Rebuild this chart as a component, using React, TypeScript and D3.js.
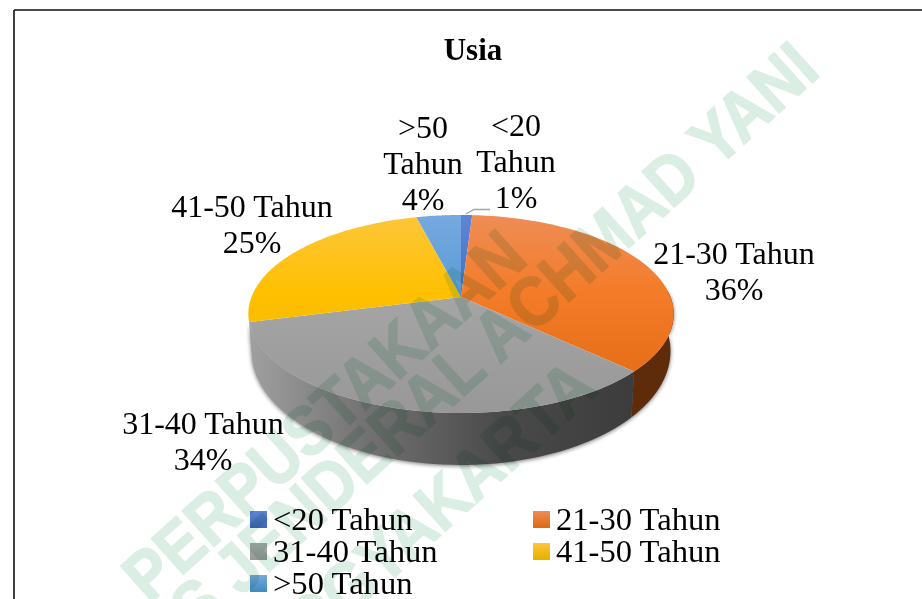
import React from "react";
import * as d3 from "d3";

const categories = ["<20 Tahun", "21-30 Tahun", "31-40 Tahun", "41-50 Tahun", ">50 Tahun"];
const values = [1, 36, 34, 25, 4];
const topStops = [
  ["#5f84d6", "#4472c4", "#3d68b8"],
  ["#ee8d55", "#f47b28", "#e0680f"],
  ["#adadad", "#a5a5a5", "#989898"],
  ["#fdc63a", "#ffc000", "#e6b000"],
  ["#76a9e0", "#5b9bd5", "#3f8cbc"],
];
const legendOrder = [[0, 1], [2, 3], [4]];
const labelLines = [
  { i: 0, lines: ["<20", "Tahun", "1%"], x: 516, y: 136 },
  { i: 1, lines: ["21-30 Tahun", "36%"], x: 734, y: 264 },
  { i: 2, lines: ["31-40 Tahun", "34%"], x: 203, y: 434 },
  { i: 3, lines: ["41-50 Tahun", "25%"], x: 252, y: 217 },
  { i: 4, lines: [">50", "Tahun", "4%"], x: 423, y: 138 },
];
const watermark = [
  { text: "PERPUSTAKAAN", x: 530, y: 262 },
  { text: "UNIVERSITAS JENDERAL ACHMAD YANI", x: 822, y: 74 },
  { text: "YOGYAKARTA", x: 600, y: 392 },
];

const serif = "'Liberation Serif', serif";
const APEX_X = 461, APEX_Y = 297, PERSP = 0.1717, BY = 45.1, AX = 209.5;

function projectTop(a: number): [number, number] {
  const u = Math.sin(a), v = -Math.cos(a);
  const den = 1 - PERSP * v;
  return [APEX_X + (AX * u) / den, (APEX_Y + BY * v) / den];
}
function projectBottom(a: number): [number, number] {
  const [x, y] = projectTop(a);
  return [APEX_X + (x - APEX_X) * 0.985, y * 1.15 - 10];
}
const line = d3.line();
const rad = Math.PI / 180;

function samples(a0: number, a1: number): number[] {
  return d3.range(0, 61).map((k) => a0 + ((a1 - a0) * k) / 60);
}

export default function App() {
  const arcs = d3.pie<number>().sort(null)(values);
  const visibleStart = 86 * rad, visibleEnd = arcs[2].endAngle;
  const side = (a0: number, a1: number) => {
    const s = samples(a0, a1);
    return line([...s.map(projectTop), ...s.slice().reverse().map(projectBottom)]) + "Z";
  };
  const allSide = side(visibleStart, visibleEnd);
  return (
    <svg width={922} height={599} style={{ position: "absolute", left: 0, top: 0, background: "#fff" }}>
      <defs>
        {topStops.map((s, i) => (
          <linearGradient key={i} id={`top${i}`} gradientUnits="userSpaceOnUse" x1="0" x2="0" y1="215" y2="413">
            <stop offset="0" stopColor={s[0]} />
            <stop offset="0.4" stopColor={s[1]} />
            <stop offset="1" stopColor={s[2]} />
          </linearGradient>
        ))}
        {topStops.map((s, i) => (
          <linearGradient key={i} id={`leg${i}`} x1="0" x2="0" y1="0" y2="1">
            <stop offset="0" stopColor={s[0]} />
            <stop offset="1" stopColor={s[2]} />
          </linearGradient>
        ))}
        <linearGradient id="grayside" gradientUnits="userSpaceOnUse" x1="250" x2="635" y1="0" y2="0">
          <stop offset="0" stopColor="#a0a0a0" />
          <stop offset="0.3" stopColor="#727272" />
          <stop offset="0.65" stopColor="#4a4a4a" />
          <stop offset="1" stopColor="#3c3c3c" />
        </linearGradient>
        <filter id="blur" x="-10%" y="-10%" width="120%" height="130%">
          <feGaussianBlur stdDeviation="2.2" />
        </filter>
      </defs>

      <path d={allSide} fill="#000" opacity={0.55} filter="url(#blur)" transform="translate(0,1)" />
      {arcs.map((d, i) => {
        const a0 = Math.max(d.startAngle, visibleStart), a1 = Math.min(d.endAngle, visibleEnd);
        if (a1 <= a0) return null;
        return <path key={i} d={side(a0, a1)} fill={i === 1 ? "#5e2c0a" : "url(#grayside)"} />;
      })}
      {arcs.map((d, i) => {
        const pts = samples(d.startAngle, d.endAngle).map(projectTop);
        return <path key={i} d={line([[APEX_X, APEX_Y], ...pts]) + "Z"} fill={`url(#top${i})`} />;
      })}

      <path d={line([[466, 214], [474, 209.5], [490, 209.5]]) ?? ""} fill="none" stroke="#a5a5a5" strokeWidth={1.4} />

      <line x1={14} x2={922} y1={10} y2={10} stroke="#111" strokeWidth={1.6} />
      <line x1={14} x2={14} y1={10} y2={599} stroke="#111" strokeWidth={1.6} />

      <text x={473} y={60} textAnchor="middle" fontFamily={serif} fontWeight="bold" fontSize={31} fill="#000">Usia</text>

      {labelLines.map((l) => (
        <text key={l.i} textAnchor="middle" fontFamily={serif} fontSize={32} fill="#000">
          {l.lines.map((t, k) => (
            <tspan key={k} x={l.x} y={l.y + k * 36}>{t}</tspan>
          ))}
        </text>
      ))}

      {legendOrder.map((row, r) =>
        row.map((idx, c) => (
          <g key={idx} transform={`translate(${c === 0 ? 250 : 533},${511 + r * 32})`}>
            <rect width={17} height={17} fill={`url(#leg${idx})`} />
            <text x={23} y={19} fontFamily={serif} fontSize={32.6} fill="#000">{categories[idx]}</text>
          </g>
        ))
      )}

      <g style={{ mixBlendMode: "multiply" }}>
        {watermark.map((w) => (
          <text key={w.text} transform={`translate(${w.x},${w.y}) rotate(-42) scale(1,1.12)`} textAnchor="end"
            fontFamily="'Liberation Sans', sans-serif" fontWeight="bold" fontSize={62} fill="#daeee4"
            stroke="#daeee4" strokeWidth={1.4}>{w.text}</text>
        ))}
      </g>
    </svg>
  );
}
